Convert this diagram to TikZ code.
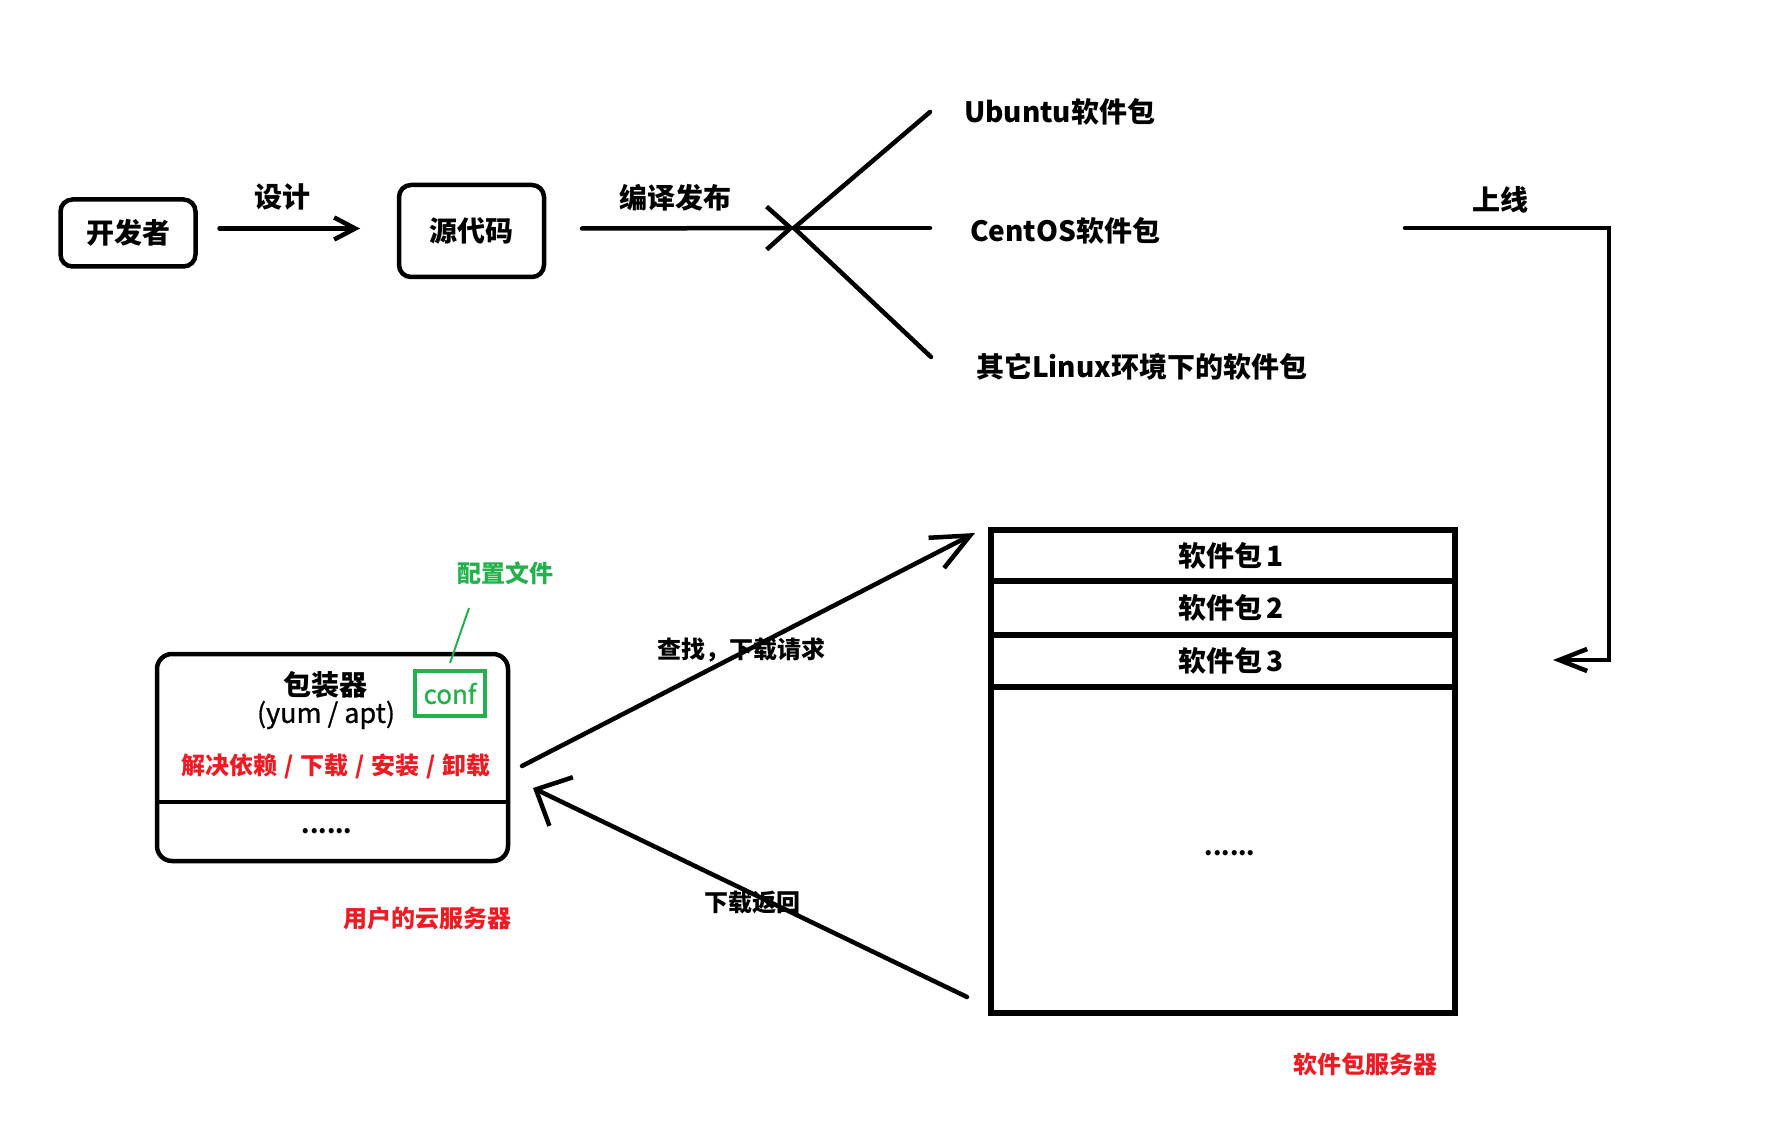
\documentclass[tikz,border=0pt]{standalone}
\usepackage{fontspec}
\setmainfont{Noto Sans CJK SC}
\newfontfamily\medfont{Noto Sans CJK SC}[FakeBold=0.8]
\usetikzlibrary{arrows.meta}
\definecolor{pred}{RGB}{237,28,36}
\definecolor{pgreen}{RGB}{34,177,76}
\begin{document}
\begin{tikzpicture}[x=1pt,y=-1pt,
  every node/.style={outer sep=0pt},
  lbl/.style={font=\fontsize{28}{33}\selectfont\bfseries, inner sep=0pt},
  slbl/.style={font=\fontsize{24}{29}\selectfont\bfseries, inner sep=0pt},
  rbox/.style={draw, line width=4.5pt, rounded corners=12pt, inner sep=0pt},
  sbox/.style={draw, line width=5.5pt, inner sep=0pt, minimum width=464pt},
  conn/.style={line width=4.5pt, line cap=round, line join=round},
]
\useasboundingbox (0,0) rectangle (1777,1139);

% top row
\node[rbox, minimum width=135pt, minimum height=67pt, lbl] (dev) at (128,233) {开发者};
\node[rbox, minimum width=145pt, minimum height=92pt, lbl] (src) at (471.5,231) {源代码};
\node[lbl] (l1) at (282,197) {设计};
\draw[conn, -{Straight Barb[length=21pt,width=22pt]}]
  ([xshift=24pt,yshift=4.5pt]dev.east) -- ([xshift=-39pt,yshift=2.5pt]src.west);

\node[lbl] (l2) at (675,198) {编译发布};
\coordinate (j) at (794,228);
\draw[conn, -{Straight Barb[length=24pt,width=43pt]}]
  ([xshift=38pt,yshift=2.5pt]src.east) -- (j);

\node[lbl, anchor=west] (ub) at (964,112) {Ubuntu软件包};
\node[lbl, anchor=west] (ce) at (970,231) {CentOS软件包};
\node[lbl, anchor=west] (ot) at (976,367) {其它Linux环境下的软件包};
\coordinate (f1) at (930,112);
\coordinate (f2) at (930,228);
\coordinate (f3) at (931,357);
\draw[conn] (j) -- (f1);
\draw[conn] (j) -- (f2);
\draw[conn] (j) -- (f3);

% publish line
\node[lbl] (l3) at (1500,200) {上线};
\coordinate (u0) at (1405,228);
\coordinate (u1) at (1609,660);
\coordinate (u2) at (1553,660);
\draw[conn, line join=miter, -{Straight Barb[length=28pt,width=22pt]}] (u0) -| (u1) -- (u2);

% package server
\node[sbox, minimum height=483pt] (srv) at (1223,771.5) {};
\node[sbox, minimum height=51pt, anchor=north] (r1) at (srv.north) {};
\node[sbox, minimum height=54pt, anchor=north] (r2) at (r1.south) {};
\node[sbox, minimum height=52pt, anchor=north] (r3) at (r2.south) {};
\node[lbl] (t1) at ([xshift=8pt]r1.center) {软件包\,1};
\node[lbl] (t2) at ([xshift=8pt]r2.center) {软件包\,2};
\node[lbl] (t3) at ([xshift=8pt]r3.center) {软件包\,3};
\node[slbl] (dots2) at (1230,853) {......};
\node[slbl, text=pred] (srvlbl) at (1365,1064) {软件包服务器};

% client
\node[rbox, rounded corners=15pt, minimum width=351pt, minimum height=207pt] (cli) at (332.5,757.5) {};
\coordinate (cd) at (0,802);
\draw[line width=4.5pt] (cli.west |- cd) -- (cli.east |- cd);
\node[lbl] (pk) at (325,685) {包装器};
\node[font=\fontsize{27}{32}\medfont, inner sep=0pt] (yum) at (326,715) {(yum / apt)};
\node[draw=pgreen, line width=4pt, minimum width=70pt, minimum height=45pt, inner sep=0pt,
      text=pgreen, font=\fontsize{26}{30}\medfont] (conf) at (450,693.5) {conf};
\node[slbl, text=pred] (ops) at (336,766)
  {解决依赖\hspace{7pt}/\hspace{7pt}下载\hspace{7pt}/\hspace{7pt}安装\hspace{7pt}/\hspace{7pt}卸载};
\node[slbl] (dots1) at (327,831) {......};
\node[slbl, text=pred] (clilbl) at (427,918) {用户的云服务器};
\node[slbl, text=pgreen] (cfg) at (505,573) {配置文件};
\coordinate (g0) at (469,608);
\draw[pgreen, line width=2pt] (g0) -- ([yshift=8pt]conf.north);

% request / return
\node[slbl] (q) at (741,650) {查找，下载请求};
\node[slbl] (d) at (752,903) {下载返回};
\draw[conn, -{Straight Barb[length=38pt,width=34pt]}]
  ([shift={(14,8.5)}]cli.east) -- ([shift={(-16,3)}]srv.north west);
\draw[conn, -{Straight Barb[length=28pt,width=54pt]}]
  ([shift={(-24,-16)}]srv.south west) -- ([shift={(25,30.5)}]cli.east);
\end{tikzpicture}
\end{document}
